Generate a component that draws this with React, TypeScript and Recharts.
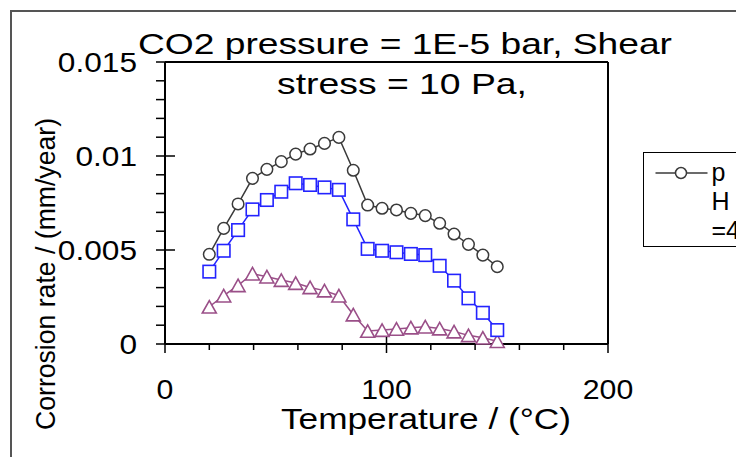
import React from 'react';
import { LineChart, Line, XAxis, YAxis, ReferenceLine, Legend } from 'recharts';

const temperatures = [20, 26.5, 33, 39.5, 46, 52.5, 59, 65.5, 72, 78.5, 85, 91.5, 98, 104.5, 111, 117.5, 124, 130.5, 137, 143.5, 150];
const ratePH4 = [0.00477, 0.00615, 0.00745, 0.00881, 0.00929, 0.0097, 0.0101, 0.01037, 0.01067, 0.01099, 0.00924, 0.00739, 0.00722, 0.00713, 0.00695, 0.00683, 0.00642, 0.00585, 0.0053, 0.00473, 0.00411];
const rateSquare = [0.00385, 0.00496, 0.00606, 0.00716, 0.00766, 0.0081, 0.00855, 0.00846, 0.00833, 0.0082, 0.00663, 0.00506, 0.00496, 0.00488, 0.00479, 0.00473, 0.00416, 0.00337, 0.00243, 0.00166, 0.00074];
const rateTriangle = [0.00198, 0.00257, 0.00312, 0.00374, 0.00358, 0.0034, 0.00324, 0.00301, 0.00284, 0.00257, 0.00156, 0.00069, 0.00074, 0.0008, 0.00087, 0.00092, 0.00082, 0.00066, 0.00046, 0.00033, 0.00015];

const xTicks = [0, 20, 40, 60, 80, 100, 120, 140, 160, 180, 200];
const xLabelTicks = [0, 100, 200];
const yTicks = [0, 0.001, 0.002, 0.003, 0.004, 0.005, 0.006, 0.007, 0.008, 0.009, 0.01, 0.011, 0.012, 0.013, 0.014, 0.015];
const yLabelTicks = [0, 0.005, 0.01, 0.015];

const titleLines = ['CO2 pressure = 1E-5 bar, Shear', 'stress = 10 Pa,'];
const xAxisTitle = 'Temperature / (\u00B0C)';
const yAxisTitle = 'Corrosion rate / (mm/year)';
const seriesNames = ['pH=4', 'pH=5', 'pH=6'];

const data = temperatures.map((t, i) => ({
  t,
  a: ratePH4[i],
  b: rateSquare[i],
  c: rateTriangle[i],
}));

const FONT = '"Liberation Sans", Arial, sans-serif';
const W = 736;
const H = 449;
const PLOT_LEFT = 157;
const PLOT_RIGHT = 600;
const PLOT_TOP = 54;
const PLOT_BOTTOM = 336;

const COL_A = '#3a3a3a';
const COL_B = '#2323ff';
const COL_C = '#9a4f88';

const isIn = (arr: number[], v: number) => arr.some((m) => Math.abs(m - v) < 1e-9);

const YTick = (props: any) => {
  const { x, y, payload } = props;
  const v = payload.value;
  const major = isIn(yLabelTicks, v);
  return (
    <g>
      <line x1={x - 9} x2={major ? x + 10 : x} y1={y} y2={y} stroke="#000" strokeWidth={1.5} />
      {major && (
        <text
          transform={`translate(${x - 28},${y + 10}) scale(1.13,1)`}
          textAnchor="end"
          fontSize={28}
          fontFamily={FONT}
          fill="#000"
        >
          {String(v)}
        </text>
      )}
    </g>
  );
};

const XTick = (props: any) => {
  const { x, y, payload } = props;
  const v = payload.value;
  const major = isIn(xLabelTicks, v);
  return (
    <g>
      <line x1={x} x2={x} y1={major ? y - 7 : y} y2={major ? y + 9 : y + 6} stroke="#000" strokeWidth={1.5} />
      {major && (
        <text
          transform={`translate(${x},${y + 55}) scale(1.08,1)`}
          textAnchor="middle"
          fontSize={28}
          fontFamily={FONT}
          fill="#000"
        >
          {String(v)}
        </text>
      )}
    </g>
  );
};

const SquareDot = (props: any) => {
  const { cx, cy, index } = props;
  if (cx == null || cy == null) return <g key={`s-${index}`} />;
  const s = 12.5;
  return <rect key={`s-${index}`} x={cx - s / 2} y={cy - s / 2} width={s} height={s} fill="#fff" stroke={COL_B} strokeWidth={1.6} />;
};

const TriangleDot = (props: any) => {
  const { cx, cy, index } = props;
  if (cx == null || cy == null) return <g key={`t-${index}`} />;
  const w = 14;
  const h = 12.5;
  const pts = `${cx},${cy - h / 2} ${cx + w / 2},${cy + h / 2} ${cx - w / 2},${cy + h / 2}`;
  return <polygon key={`t-${index}`} points={pts} fill="#fff" stroke={COL_C} strokeWidth={1.6} />;
};

const renderTitle = () => (
  <g>
    <text x={397} y={46} textAnchor="middle" fontSize={30} fontFamily={FONT} fill="#000" textLength={534} lengthAdjust="spacingAndGlyphs">
      {titleLines[0]}
    </text>
    <text x={394} y={86} textAnchor="middle" fontSize={30} fontFamily={FONT} fill="#000" textLength={250} lengthAdjust="spacingAndGlyphs">
      {titleLines[1]}
    </text>
  </g>
);

const renderXLabel = () => (
  <text x={418} y={421} textAnchor="middle" fontSize={29} fontFamily={FONT} fill="#000" textLength={290} lengthAdjust="spacingAndGlyphs">
    {xAxisTitle}
  </text>
);

const renderYLabel = () => (
  <text
    transform={`translate(47,266) rotate(-90)`}
    x={0}
    y={0}
    textAnchor="middle"
    fontSize={28}
    fontFamily={FONT}
    fill="#000"
    textLength={312}
    lengthAdjust="spacingAndGlyphs"
  >
    {yAxisTitle}
  </text>
);

const renderLegend = (props: any) => {
  const payload = props.payload || [];
  const entry = payload.find((p: any) => p.dataKey === 'a');
  const label = entry ? entry.value : seriesNames[0];
  return (
    <div
      style={{
        width: 130,
        height: 95,
        border: '1.5px solid #000',
        boxSizing: 'border-box',
        position: 'relative',
        background: '#fff',
        fontFamily: FONT,
        fontSize: 25,
        color: '#000',
      }}
    >
      <svg style={{ position: 'absolute', left: 10.5, top: 12.8 }} width={54} height={14}>
        <line x1={0.5} x2={52.5} y1={7} y2={7} stroke={COL_A} strokeWidth={1.5} />
        <circle cx={26} cy={7} r={5.5} fill="#fff" stroke={COL_A} strokeWidth={1.5} />
      </svg>
      <div style={{ position: 'absolute', left: 67.5, top: 5, width: 30, wordBreak: 'break-all', lineHeight: '29px' }}>{label}</div>
    </div>
  );
};

export default function App() {
  return (
    <div style={{ position: 'relative', width: W, height: H, overflow: 'hidden', background: '#fff' }}>
      <div
        style={{
          position: 'absolute',
          left: 2,
          top: 2,
          width: 900,
          height: 900,
          borderLeft: '2px solid #555',
          borderTop: '2px solid #555',
        }}
      />
      <div style={{ position: 'absolute', left: 0, top: 0 }}>
        <LineChart
          width={W}
          height={H}
          data={data}
          margin={{ top: PLOT_TOP, right: W - PLOT_RIGHT, bottom: H - PLOT_BOTTOM - 60, left: 0 }}
        >
          <XAxis
            dataKey="t"
            type="number"
            domain={[0, 200]}
            ticks={xTicks}
            interval={0}
            height={60}
            tickSize={0}
            tickMargin={0}
            tick={<XTick />}
            axisLine={{ stroke: '#000', strokeWidth: 2 }}
            tickLine={false}
            label={renderXLabel}
          />
          <YAxis
            type="number"
            domain={[0, 0.015]}
            ticks={yTicks}
            interval={0}
            width={PLOT_LEFT}
            tickSize={0}
            tickMargin={0}
            tick={<YTick />}
            axisLine={{ stroke: '#000', strokeWidth: 2 }}
            tickLine={false}
            label={renderYLabel}
          />
          <ReferenceLine y={0.015} stroke="#000" strokeWidth={2} label={renderTitle} />
          <ReferenceLine x={200} stroke="#000" strokeWidth={2} />
          <Legend
            layout="horizontal"
            verticalAlign="middle"
            align="center"
            content={renderLegend}
            wrapperStyle={{ left: 635, top: 144, width: 130, height: 95 }}
          />
          <Line
            dataKey="c"
            name={seriesNames[2]}
            stroke={COL_C}
            strokeWidth={1.5}
            dot={TriangleDot}
            isAnimationActive={false}
            legendType="none"
          />
          <Line
            dataKey="b"
            name={seriesNames[1]}
            stroke={COL_B}
            strokeWidth={1.5}
            dot={SquareDot}
            isAnimationActive={false}
            legendType="none"
          />
          <Line
            dataKey="a"
            name={seriesNames[0]}
            stroke={COL_A}
            strokeWidth={1.5}
            dot={{ r: 5.8, fill: '#fff', stroke: COL_A, strokeWidth: 1.5 }}
            isAnimationActive={false}
          />
        </LineChart>
      </div>
    </div>
  );
}
